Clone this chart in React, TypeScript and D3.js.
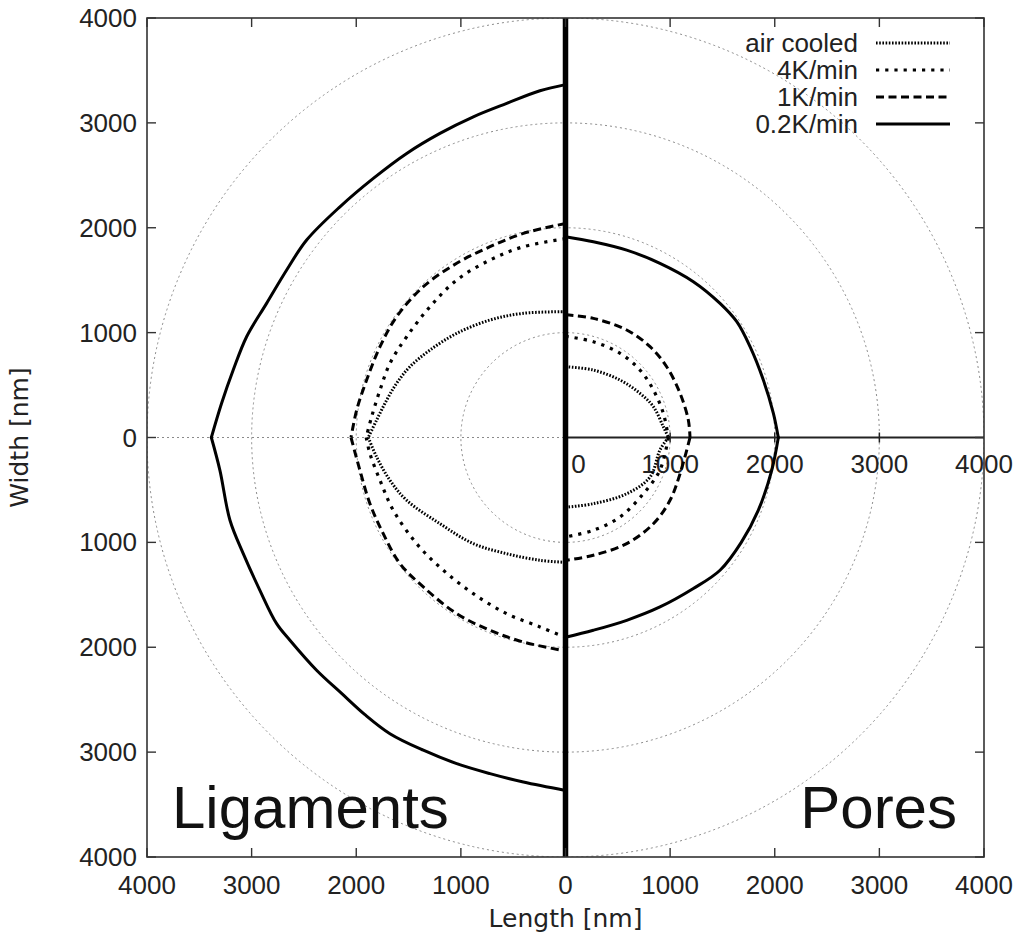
import React from "react";
import * as d3 from "d3";

// [length nm, width nm] pairs, traced from top (width>0) through the tip to bottom
const ligaments02K: [number, number][] = [
  [0, 3365], [244, 3306], [562, 3186], [881, 3058], [1200, 2900], [1518, 2709], [1837, 2471],
  [2156, 2200], [2474, 1883], [2665, 1597], [2857, 1279], [3048, 961], [3176, 643], [3287, 326],
  [3385, 0], [3303, -313], [3207, -789], [3080, -1107], [2921, -1457], [2761, -1775], [2634, -1933],
  [2379, -2219], [2140, -2440], [1920, -2640], [1678, -2824], [1359, -2982], [1040, -3110],
  [722, -3205], [403, -3285], [0, -3365],
];
const ligaments1K: [number, number][] = [
  [0, 2040], [403, 1946], [722, 1819], [1040, 1661], [1359, 1438], [1614, 1152], [1773, 866],
  [1901, 548], [1996, 262], [2050, 0], [1965, -313], [1869, -631], [1742, -917], [1582, -1203],
  [1359, -1425], [1040, -1680], [722, -1838], [403, -1950], [0, -2035],
];
const ligaments4K: [number, number][] = [
  [0, 1895], [403, 1819], [722, 1692], [1040, 1501], [1295, 1247], [1518, 961], [1678, 707],
  [1773, 453], [1853, 198], [1905, 0], [1869, -154], [1773, -408], [1646, -694], [1423, -1012],
  [1168, -1266], [881, -1489], [562, -1680], [244, -1806], [0, -1905],
];
const ligamentsAir: [number, number][] = [
  [0, 1200], [403, 1184], [722, 1120], [1040, 993], [1295, 834], [1487, 675], [1614, 517],
  [1709, 357], [1805, 167], [1885, 0], [1805, -186], [1678, -408], [1518, -599], [1200, -822],
  [881, -1012], [562, -1108], [244, -1171], [0, -1190],
];
const pores02K: [number, number][] = [
  [0, 1915], [266, 1867], [585, 1787], [903, 1661], [1222, 1486], [1477, 1279], [1637, 1104],
  [1764, 866], [1891, 548], [1987, 231], [2034, 0], [1971, -313], [1840, -700], [1680, -1000],
  [1477, -1266], [1222, -1440], [903, -1616], [585, -1743], [266, -1838], [0, -1905],
];
const pores1K: [number, number][] = [
  [0, 1170], [266, 1136], [585, 1025], [808, 866], [967, 675], [1095, 421], [1174, 167],
  [1190, 0], [1095, -345], [999, -599], [840, -822], [585, -1012], [266, -1123], [0, -1172],
];
const pores4K: [number, number][] = [
  [0, 965], [266, 913], [521, 803], [712, 643], [840, 453], [935, 231], [983, 0],
  [903, -310], [741, -539], [521, -758], [266, -885], [0, -948],
];
const poresAir: [number, number][] = [
  [0, 675], [266, 643], [521, 548], [712, 421], [840, 294], [935, 103], [983, 0],
  [903, -119], [808, -377], [585, -536], [266, -631], [0, -665],
];

const seriesNames = ["air cooled", "4K/min", "1K/min", "0.2K/min"];
const gridRadii = [1000, 2000, 3000, 4000];
const axisTicks = [-4000, -3000, -2000, -1000, 0, 1000, 2000, 3000, 4000];
const poreAxisTicks = [0, 1000, 2000, 3000, 4000];

const W = 1024;
const H = 946;
const FONT = "'Liberation Sans', Arial, Helvetica, sans-serif";
const TITLE_FONT = "'DejaVu Sans', Verdana, sans-serif";
const TXT = "#222";

const styles: Record<string, { dash: string; width: number; cap: string }> = {
  "air cooled": { dash: "1.6 1.6", width: 3, cap: "butt" },
  "4K/min": { dash: "3.2 6", width: 3.2, cap: "butt" },
  "1K/min": { dash: "8 4.5", width: 3, cap: "butt" },
  "0.2K/min": { dash: "", width: 3, cap: "round" },
};

export default function App() {
  const x = d3.scaleLinear().domain([-4000, 4000]).range([147, 984]);
  const y = d3.scaleLinear().domain([-4000, 4000]).range([857, 18]);
  const x0 = x(0);
  const y0 = y(0);

  const line = d3
    .line<[number, number]>()
    .x((d) => d[0])
    .y((d) => d[1])
    .curve(d3.curveCatmullRom.alpha(0.5));

  const halves = (pts: [number, number][], sign: number) => {
    const tip = pts.findIndex((p) => p[1] === 0);
    const mapped = pts.map((p) => [x(sign * p[0]), y(p[1])] as [number, number]);
    return [line(mapped.slice(0, tip + 1)) || "", line(mapped.slice(tip)) || ""];
  };

  const curves: { name: string; data: [number, number][]; sign: number }[] = [
    { name: "air cooled", data: ligamentsAir, sign: -1 },
    { name: "4K/min", data: ligaments4K, sign: -1 },
    { name: "1K/min", data: ligaments1K, sign: -1 },
    { name: "0.2K/min", data: ligaments02K, sign: -1 },
    { name: "air cooled", data: poresAir, sign: 1 },
    { name: "4K/min", data: pores4K, sign: 1 },
    { name: "1K/min", data: pores1K, sign: 1 },
    { name: "0.2K/min", data: pores02K, sign: 1 },
  ];

  const left = x(-4000), right = x(4000), top = y(4000), bottom = y(-4000);
  const tickLen = 9;

  return (
    <div style={{ position: "absolute", left: 0, top: 0 }}>
      <svg width={W} height={H} viewBox={`0 0 ${W} ${H}`} style={{ display: "block", background: "#fff" }}>
        <defs>
          <clipPath id="plot">
            <rect x={left} y={top} width={right - left} height={bottom - top} />
          </clipPath>
        </defs>

        {/* grid circles */}
        <g clipPath="url(#plot)">
          {gridRadii.map((r) => (
            <ellipse
              key={r}
              cx={x0}
              cy={y0}
              rx={x(r) - x0}
              ry={y0 - y(r)}
              fill="none"
              stroke="#8a8a8a"
              strokeWidth={1}
              strokeDasharray="2 3"
            />
          ))}
          <line x1={left} x2={x0} y1={y0} y2={y0} stroke="#8a8a8a" strokeWidth={1} strokeDasharray="2 3" />
        </g>

        {/* pores axis */}
        <line x1={x0} x2={right} y1={y0} y2={y0} stroke="#222" strokeWidth={2} />
        {poreAxisTicks.filter((t) => t > 0 && t < 4000).map((t) => (
          <line key={t} x1={x(t)} x2={x(t)} y1={y0 - 5} y2={y0 + 5} stroke="#222" strokeWidth={1.5} />
        ))}
        {poreAxisTicks.map((t) => (
          <text
            key={t}
            x={t === 0 ? x(t) + 13 : x(t)}
            y={y0 + 35}
            textAnchor="middle"
            fontFamily={FONT}
            fontSize={26}
            fill={TXT}
          >
            {t}
          </text>
        ))}

        {/* curves */}
        <g clipPath="url(#plot)">
          {curves.map((c, i) => {
            const st = styles[c.name];
            return halves(c.data, c.sign).map((d, j) => (
              <path
                key={`${i}-${j}`}
                d={d}
                fill="none"
                stroke="#000"
                strokeWidth={st.width}
                strokeDasharray={st.dash || undefined}
                strokeLinecap={st.cap as any}
                strokeLinejoin="round"
              />
            ));
          })}
        </g>

        {/* thick centre line */}
        <line x1={x0} x2={x0} y1={top} y2={bottom} stroke="#000" strokeWidth={5.5} />

        {/* frame */}
        <rect x={left} y={top} width={right - left} height={bottom - top} fill="none" stroke="#333" strokeWidth={1.6} />
        {axisTicks.map((t) => (
          <g key={t} stroke="#333" strokeWidth={1.4}>
            <line x1={left} x2={left + tickLen} y1={y(t)} y2={y(t)} />
            <line x1={right} x2={right - tickLen} y1={y(t)} y2={y(t)} />
            <line x1={x(t)} x2={x(t)} y1={bottom} y2={bottom - tickLen} />
            <line x1={x(t)} x2={x(t)} y1={top} y2={top + tickLen} />
          </g>
        ))}

        {/* tick labels */}
        {axisTicks.map((t) => (
          <text
            key={`y${t}`}
            x={left - 10}
            y={y(t) + 9}
            textAnchor="end"
            fontFamily={FONT}
            fontSize={26}
            fill={TXT}
          >
            {Math.abs(t)}
          </text>
        ))}
        {axisTicks.map((t) => (
          <text
            key={`x${t}`}
            x={x(t)}
            y={bottom + 37}
            textAnchor="middle"
            fontFamily={FONT}
            fontSize={26}
            fill={TXT}
          >
            {Math.abs(t)}
          </text>
        ))}

        {/* axis titles */}
        <text x={x0} y={927} textAnchor="middle" fontFamily={TITLE_FONT} fontSize={25} fill={TXT}>
          Length [nm]
        </text>
        <text
          transform={`translate(28, ${y0}) rotate(-90)`}
          textAnchor="middle"
          fontFamily={TITLE_FONT}
          fontSize={25}
          fill={TXT}
        >
          Width [nm]
        </text>

        {/* panel labels */}
        <text x={172} y={828} fontFamily={FONT} fontSize={60} fill="#111">
          Ligaments
        </text>
        <text x={957} y={828} textAnchor="end" fontFamily={FONT} fontSize={60} fill="#111">
          Pores
        </text>

        {/* legend */}
        {seriesNames.map((n, i) => {
          const ly = 43 + i * 27;
          const st = styles[n];
          return (
            <g key={n}>
              <text x={858} y={ly + 9} textAnchor="end" fontFamily={FONT} fontSize={26} fill={TXT}>
                {n}
              </text>
              <line
                x1={876}
                x2={950}
                y1={ly}
                y2={ly}
                stroke="#000"
                strokeWidth={st.width}
                strokeDasharray={st.dash || undefined}
              />
            </g>
          );
        })}
      </svg>
    </div>
  );
}
